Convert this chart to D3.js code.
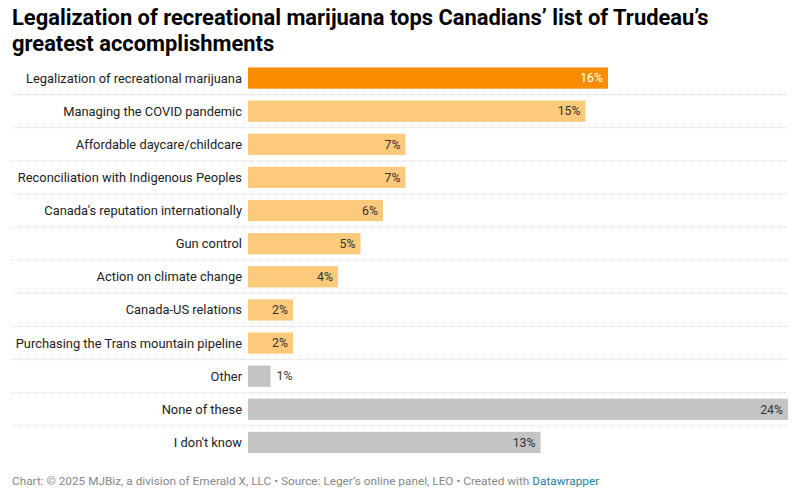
<!DOCTYPE html>
<html><head><meta charset="utf-8">
<script src="https://cdn.jsdelivr.net/npm/d3@7"></script>
<style>
body{margin:0;background:#fff;font-family:Roboto,"Noto Sans",sans-serif;}
svg{display:block}
</style></head>
<body><svg id="c" width="800" height="496"></svg>
<script>
const categories = ["Legalization of recreational marijuana","Managing the COVID pandemic","Affordable daycare/childcare","Reconciliation with Indigenous Peoples","Canada's reputation internationally","Gun control","Action on climate change","Canada-US relations","Purchasing the Trans mountain pipeline","Other","None of these","I don't know"];
const values = [16,15,7,7,6,5,4,2,2,1,24,13];
const colorGroups = ["highlight","main","main","main","main","main","main","main","main","other","other","other"];
const titleLines = ["Legalization of recreational marijuana tops Canadians’ list of Trudeau’s","greatest accomplishments"];

const svg = d3.select("#c");
const colors = {highlight:"#fa8c00", main:"#fdc97a", other:"#c4c4c4"};

svg.selectAll("text.title").data(titleLines).enter().append("text")
  .attr("x",12).attr("y",(d,i)=>25+i*26)
  .attr("font-size",21.9).attr("font-weight",700).attr("fill","#000")
  .attr("font-family","Roboto, sans-serif")
  .text(d=>d);

const x = d3.scaleLinear().domain([0,24]).range([248,788]);
const y = d3.scaleBand().domain(categories).range([61.5,459]).paddingInner(0.36).paddingOuter(0.18);

const rowH = y.step();
svg.selectAll("line.sep").data(categories.slice(0,-1)).enter().append("line")
  .attr("x1",12).attr("x2",788)
  .attr("y1",d=>y(d)+y.bandwidth()+ (rowH-y.bandwidth())/2)
  .attr("y2",d=>y(d)+y.bandwidth()+ (rowH-y.bandwidth())/2)
  .attr("stroke","#d6d6d6").attr("stroke-width",1).attr("stroke-dasharray","1,1");

const g = svg.selectAll("g.row").data(categories).enter().append("g");
g.append("rect")
  .attr("x",x(0)).attr("y",d=>y(d))
  .attr("width",(d,i)=>x(values[i])-x(0)).attr("height",y.bandwidth())
  .attr("fill",(d,i)=>colors[colorGroups[i]]);
g.append("text")
  .attr("x",242).attr("y",d=>y(d)+y.bandwidth()/2).attr("dy","0.35em")
  .attr("text-anchor","end").attr("font-size",12.9).attr("fill","#222")
  .text(d=>d);
g.append("text")
  .attr("x",(d,i)=> values[i]<2 ? x(values[i])+6 : x(values[i])-5)
  .attr("y",d=>y(d)+y.bandwidth()/2).attr("dy","0.35em")
  .attr("text-anchor",(d,i)=> values[i]<2 ? "start":"end")
  .attr("font-size",12.3).attr("fill",(d,i)=> colorGroups[i]==="highlight" ? "#fff" : "#333")
  .text((d,i)=>values[i]+"%");

const foot = svg.append("text").attr("x",12).attr("y",485).attr("font-size",11.8).attr("fill","#888");
foot.append("tspan").text("Chart: © 2025 MJBiz, a division of Emerald X, LLC • Source: Leger’s online panel, LEO • Created with ");
foot.append("tspan").attr("fill","#1d81a2").text("Datawrapper");
</script></body></html>
